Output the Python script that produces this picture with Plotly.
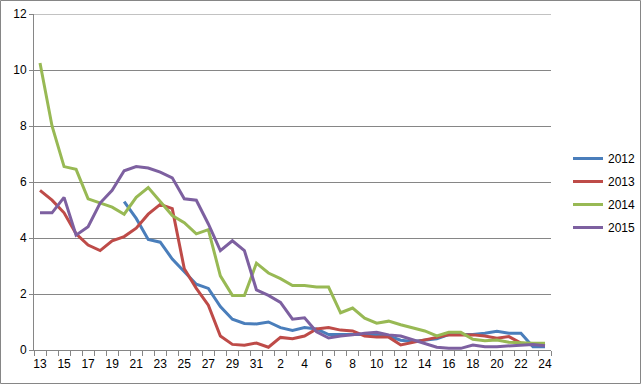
import plotly.graph_objects as go

categories = [str(w) for w in range(13, 32)] + [str(w) for w in range(1, 25)]

s2012 = [None, None, None, None, None, None, None, 5.3, 4.7, 3.95, 3.85, 3.25, 2.8, 2.35, 2.2, 1.55, 1.1, 0.95, 0.93, 1.0,
         0.8, 0.7, 0.8, 0.75, 0.55, 0.55, 0.55, 0.55, 0.55, 0.5, 0.35, 0.3, 0.35, 0.4, 0.55, 0.55, 0.55, 0.6, 0.67, 0.6,
         0.6, 0.12, 0.12]
s2013 = [5.7, 5.35, 4.9, 4.15, 3.75, 3.55, 3.9, 4.05, 4.35, 4.85, 5.2, 5.05, 2.9, 2.2, 1.6, 0.5, 0.2, 0.17, 0.25, 0.1,
         0.45, 0.4, 0.5, 0.75, 0.8, 0.71, 0.68, 0.5, 0.46, 0.46, 0.18, 0.27, 0.36, 0.46, 0.54, 0.54, 0.54, 0.5, 0.42, 0.48,
         0.25, 0.2, 0.2]
s2014 = [10.25, 8.0, 6.55, 6.45, 5.4, 5.25, 5.1, 4.85, 5.45, 5.8, 5.3, 4.8, 4.55, 4.15, 4.3, 2.65, 1.95, 1.95, 3.1, 2.75,
         2.55, 2.3, 2.3, 2.25, 2.25, 1.33, 1.5, 1.14, 0.96, 1.03, 0.9, 0.79, 0.68, 0.5, 0.63, 0.63, 0.38, 0.33, 0.36, 0.28,
         0.25, 0.24, 0.24]
s2015 = [4.9, 4.9, 5.45, 4.1, 4.4, 5.25, 5.7, 6.4, 6.55, 6.5, 6.35, 6.15, 5.4, 5.35, 4.5, 3.55, 3.9, 3.55, 2.15, 1.95,
         1.7, 1.1, 1.15, 0.65, 0.43, 0.5, 0.54, 0.6, 0.63, 0.54, 0.5, 0.36, 0.24, 0.1, 0.06, 0.06, 0.18, 0.12, 0.12, 0.15,
         0.18, 0.2, 0.15]

series = [("2012", s2012, "#4A7EBB"), ("2013", s2013, "#BE4B48"), ("2014", s2014, "#98B954"), ("2015", s2015, "#7D60A0")]
y_ticks = [0, 2, 4, 6, 8, 10, 12]

x = list(range(len(categories)))
fig = go.Figure()
for name, vals, col in series:
    fig.add_trace(go.Scatter(x=x, y=vals, name=name, mode="lines", legendgroup=name,
                             line=dict(color=col, width=3), connectgaps=False))

W, H = 641, 385
L, R, T, B = 34, 90, 14, 35
pw, ph = W - L - R, H - T - B
bottom_px = T + ph

grid = "#868686"
fig.update_layout(
    width=W, height=H,
    margin=dict(l=L, r=R, t=T, b=B, autoexpand=False),
    paper_bgcolor="white", plot_bgcolor="white",
    font=dict(family="Liberation Sans, Arial, sans-serif", size=12, color="#000000"),
    showlegend=True,
    legend=dict(x=(568 - L) / pw, y=(bottom_px - 144) / ph, xanchor="left", yanchor="top",
                font=dict(size=12), tracegroupgap=4, bgcolor="rgba(0,0,0,0)"),
    xaxis=dict(range=[-0.5, len(categories) - 0.5], showgrid=False, zeroline=False, automargin=False,
               showline=True, linecolor=grid, linewidth=1,
               tickmode="array", tickvals=[i - 0.5 for i in range(len(categories) + 1)],
               ticktext=["" for _ in range(len(categories) + 1)],
               ticks="outside", ticklen=5, tickcolor=grid, tickwidth=1),
    xaxis2=dict(range=[-0.5, len(categories) - 0.5], overlaying="x", side="bottom", automargin=False,
                showgrid=False, zeroline=False, showline=False,
                tickmode="array", tickvals=x[::2], ticktext=categories[::2],
                ticks="", ticklabelstandoff=5, tickfont=dict(size=12)),
    yaxis=dict(range=[0, 12], tickvals=y_ticks, showgrid=True, gridcolor=grid, gridwidth=1, automargin=False,
               zeroline=False, showline=True, linecolor=grid, linewidth=1,
               ticks="outside", ticklen=4, tickcolor=grid, tickfont=dict(size=12)),
)
fig.add_trace(go.Scatter(x=[0], y=[None], xaxis="x2", showlegend=False, hoverinfo="skip"))

fig.add_shape(type="line", xref="paper", yref="y", x0=0, x1=1, y0=12, y1=12,
              line=dict(color=grid, width=1), layer="below")
fig.add_shape(type="rect", xref="paper", yref="paper",
              x0=(0.5 - L) / pw, x1=(640.5 - L) / pw,
              y0=(bottom_px - 383.5) / ph, y1=(bottom_px - 0.5) / ph,
              line=dict(color=grid, width=1), fillcolor="rgba(0,0,0,0)", layer="above")
fig.write_html("out.html", config={"displayModeBar": False},
               post_script="document.body.style.margin='0';document.body.style.overflow='hidden';")
